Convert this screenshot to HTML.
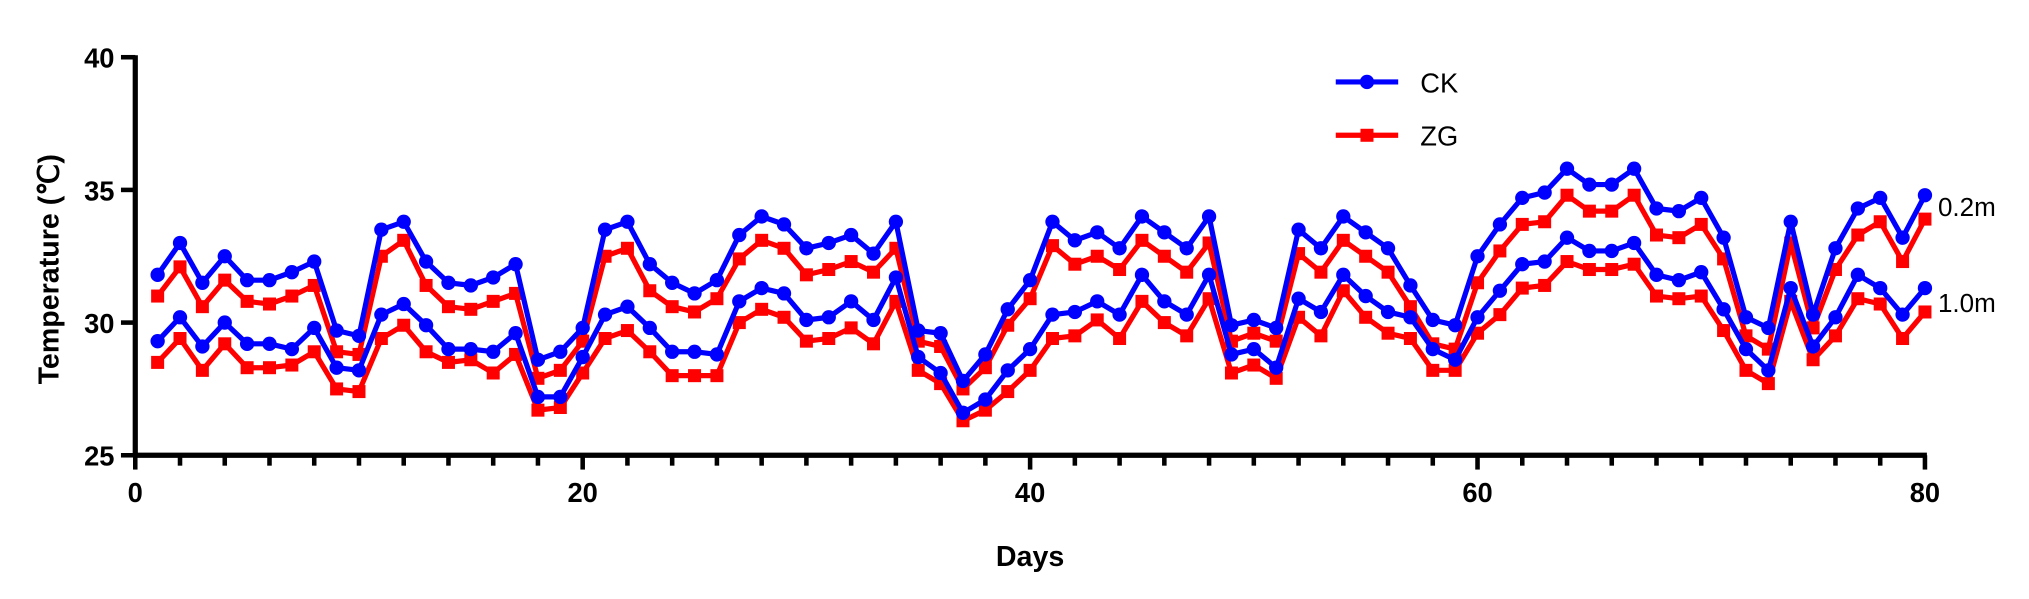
<!DOCTYPE html>
<html><head><meta charset="utf-8"><style>
html,body{margin:0;padding:0;background:#fff;}
svg{display:block;}
text{font-family:"Liberation Sans",Arial,sans-serif;}
</style></head><body>
<svg id="c" width="2029" height="599" viewBox="0 0 1560 460.5" preserveAspectRatio="none" xmlns="http://www.w3.org/2000/svg">
<g id="ticks" stroke="#000" stroke-width="3.5"></g>
<line x1="104" y1="42.5" x2="104" y2="351.5" stroke="#000" stroke-width="4"/>
<line x1="102.5" y1="350" x2="1481.5" y2="350" stroke="#000" stroke-width="4"/>
<g font-size="21" font-weight="bold" text-anchor="end">
<text x="88" y="52">40</text><text x="88" y="154">35</text><text x="88" y="256">30</text><text x="88" y="358">25</text>
</g>
<g font-size="21" font-weight="bold" text-anchor="middle">
<text x="104" y="386">0</text><text x="448" y="386">20</text><text x="792" y="386">40</text><text x="1136" y="386">60</text><text x="1480" y="386">80</text>
</g>
<text x="792" y="435" font-size="22" font-weight="bold" text-anchor="middle">Days</text>
<text transform="translate(45,207) rotate(-90)" font-size="22" font-weight="bold" text-anchor="middle">Temperature (℃)</text>
<g id="series"></g>
<line x1="1027" y1="63" x2="1075" y2="63" stroke="#0000ff" stroke-width="4"/><circle cx="1051" cy="63" r="5.5" fill="#0000ff"/>
<text x="1092" y="71" font-size="21">CK</text>
<line x1="1027" y1="104" x2="1075" y2="104" stroke="#ff0000" stroke-width="4"/><rect x="1046" y="99" width="10" height="10" fill="#ff0000"/>
<text x="1092" y="112" font-size="21">ZG</text>
<text x="1490" y="166" font-size="20">0.2m</text>
<text x="1490" y="240" font-size="20">1.0m</text>
</svg>
<script>
var CK2=[31.8,33.0,31.5,32.5,31.6,31.6,31.9,32.3,29.7,29.5,33.5,33.8,32.3,31.5,31.4,31.7,32.2,28.6,28.9,29.8,33.5,33.8,32.2,31.5,31.1,31.6,33.3,34.0,33.7,32.8,33.0,33.3,32.6,33.8,29.7,29.6,27.8,28.8,30.5,31.6,33.8,33.1,33.4,32.8,34.0,33.4,32.8,34.0,29.9,30.1,29.8,33.5,32.8,34.0,33.4,32.8,31.4,30.1,29.9,32.5,33.7,34.7,34.9,35.8,35.2,35.2,35.8,34.3,34.2,34.7,33.2,30.2,29.8,33.8,30.3,32.8,34.3,34.7,33.2,34.8];
var ZG2=[31.0,32.1,30.6,31.6,30.8,30.7,31.0,31.4,28.9,28.8,32.5,33.1,31.4,30.6,30.5,30.8,31.1,27.9,28.2,29.3,32.5,32.8,31.2,30.6,30.4,30.9,32.4,33.1,32.8,31.8,32.0,32.3,31.9,32.8,29.3,29.1,27.5,28.3,29.9,30.9,32.9,32.2,32.5,32.0,33.1,32.5,31.9,33.0,29.3,29.6,29.3,32.6,31.9,33.1,32.5,31.9,30.6,29.2,29.0,31.5,32.7,33.7,33.8,34.8,34.2,34.2,34.8,33.3,33.2,33.7,32.4,29.5,29.0,33.0,29.8,32.0,33.3,33.8,32.3,33.9];
var CK1=[29.3,30.2,29.1,30.0,29.2,29.2,29.0,29.8,28.3,28.2,30.3,30.7,29.9,29.0,29.0,28.9,29.6,27.2,27.2,28.7,30.3,30.6,29.8,28.9,28.9,28.8,30.8,31.3,31.1,30.1,30.2,30.8,30.1,31.7,28.7,28.1,26.6,27.1,28.2,29.0,30.3,30.4,30.8,30.3,31.8,30.8,30.3,31.8,28.8,29.0,28.3,30.9,30.4,31.8,31.0,30.4,30.2,29.0,28.6,30.2,31.2,32.2,32.3,33.2,32.7,32.7,33.0,31.8,31.6,31.9,30.5,29.0,28.2,31.3,29.1,30.2,31.8,31.3,30.3,31.3];
var ZG1=[28.5,29.4,28.2,29.2,28.3,28.3,28.4,28.9,27.5,27.4,29.4,29.9,28.9,28.5,28.6,28.1,28.8,26.7,26.8,28.1,29.4,29.7,28.9,28.0,28.0,28.0,30.0,30.5,30.2,29.3,29.4,29.8,29.2,30.8,28.2,27.7,26.3,26.7,27.4,28.2,29.4,29.5,30.1,29.4,30.8,30.0,29.5,30.9,28.1,28.4,27.9,30.2,29.5,31.2,30.2,29.6,29.4,28.2,28.2,29.6,30.3,31.3,31.4,32.3,32.0,32.0,32.2,31.0,30.9,31.0,29.7,28.2,27.7,30.8,28.6,29.5,30.9,30.7,29.4,30.4];
function X(d){return 104+17.2*d;}function Y(v){return 44+(40-v)*20.4;}
var t=document.getElementById("ticks"),s="";
for(var d=0;d<=80;d+=2){var big=d%20==0;s+='<line x1="'+X(d)+'" y1="350" x2="'+X(d)+'" y2="'+(big?361:358)+'"/>';}
[25,30,35,40].forEach(function(v){s+='<line x1="93" y1="'+Y(v)+'" x2="104" y2="'+Y(v)+'"/>';});
t.innerHTML=s;
function ser(a,col,sq){var p="",m="";for(var i=0;i<a.length;i++){var x=X(i+1),y=Y(a[i]);p+=(i?"L":"M")+x.toFixed(1)+" "+y.toFixed(1);
m+=sq?'<rect x="'+(x-5)+'" y="'+(y-5)+'" width="10" height="10" fill="'+col+'"/>':'<circle cx="'+x+'" cy="'+y+'" r="5.5" fill="'+col+'"/>';}
return '<path d="'+p+'" fill="none" stroke="'+col+'" stroke-width="4" stroke-linejoin="round"/>'+m;}
document.getElementById("series").innerHTML=ser(ZG1,"#ff0000",1)+ser(ZG2,"#ff0000",1)+ser(CK1,"#0000ff",0)+ser(CK2,"#0000ff",0);
</script>
</body></html>
